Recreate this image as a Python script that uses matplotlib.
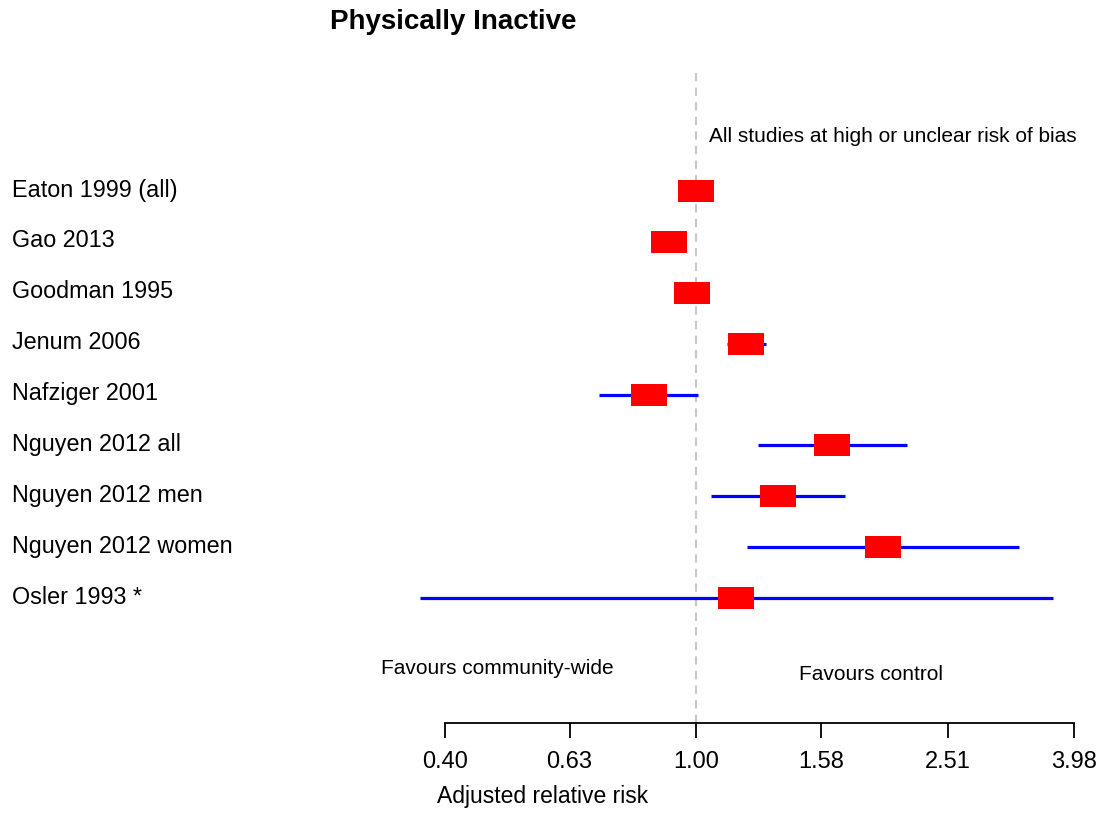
import matplotlib
matplotlib.use("Agg")
import matplotlib.pyplot as plt
import numpy as np

plt.rcParams['font.family'] = ['Liberation Sans', 'DejaVu Sans']

studies = ["Eaton 1999 (all)", "Gao 2013", "Goodman 1995", "Jenum 2006",
           "Nafziger 2001", "Nguyen 2012 all", "Nguyen 2012 men",
           "Nguyen 2012 women", "Osler 1993 *"]
rr = [1.00, 0.906, 0.984, 1.20, 0.842, 1.644, 1.349, 1.981, 1.157]
lo = [0.99, 0.90, 0.98, 1.12, 0.702, 1.254, 1.056, 1.205, 0.365]
hi = [1.01, 0.91, 0.99, 1.29, 1.007, 2.162, 1.724, 3.257, 3.687]
tick_vals = [0.40, 0.63, 1.00, 1.58, 2.51, 3.98]
tick_labels = ["0.40", "0.63", "1.00", "1.58", "2.51", "3.98"]

W, H = 1104, 814
fig = plt.figure(figsize=(W / 100, H / 100), dpi=100)

# axes placed in pixel terms: x 380..1090, y 60..723 (from top)
L, R, T, B = 380, 1090, 60, 723
ax = fig.add_axes([L / W, 1 - B / H, (R - L) / W, (B - T) / H])
ax.set_xscale('log')
ax.set_xlim(10 ** ((L - 696) / 630), 10 ** ((R - 696) / 630))
ax.set_ylim((B - 191) / 50.9, (T - 191) / 50.9)

y = np.arange(len(studies))

# reference line
ax.vlines(1.0, (73 - 191) / 50.9, (B - 191) / 50.9, colors='#c8c8c8',
          linestyles=(0, (4, 3)), linewidth=1.5, zorder=1)

# CIs and boxes
ax.hlines(y, lo, hi, colors='#0000ff', linewidth=2.3, zorder=2)
box = [(-18, -11), (18, -11), (18, 11), (-18, 11), (-18, -11)]
ax.plot(rr, y, linestyle='none', marker=box, markersize=36 * 0.72,
        color='#ff0000', markeredgewidth=0, zorder=3)

# axis styling (R-like)
for s in ['top', 'right', 'left']:
    ax.spines[s].set_visible(False)
ax.spines['bottom'].set_bounds(tick_vals[0], tick_vals[-1])
ax.spines['bottom'].set_linewidth(1.3)
ax.set_xticks(tick_vals)
ax.set_xticklabels(tick_labels, fontsize=17)
ax.xaxis.set_minor_locator(matplotlib.ticker.NullLocator())
ax.tick_params(axis='x', direction='out', length=11, width=1.3, pad=9)
ax.set_yticks([])
ax.set_xlabel("Adjusted relative risk", fontsize=16.5, labelpad=9,
              x=(543 - L) / (R - L), ha='center')

# study labels
for yi, name in zip(y, studies):
    fig.text(12 / W, 1 - (190 + 50.9 * yi) / H, name, fontsize=16.8,
             ha='left', va='center')

fig.text(330 / W, 1 - 22 / H, "Physically Inactive", fontsize=20,
         fontweight='bold', ha='left', va='center')
fig.text(709 / W, 1 - 137 / H, "All studies at high or unclear risk of bias",
         fontsize=15, ha='left', va='center')
fig.text(381 / W, 1 - 669 / H, "Favours community-wide", fontsize=15,
         ha='left', va='center')
fig.text(799 / W, 1 - 675 / H, "Favours control", fontsize=15,
         ha='left', va='center')

fig.savefig("out.png", dpi=100)
